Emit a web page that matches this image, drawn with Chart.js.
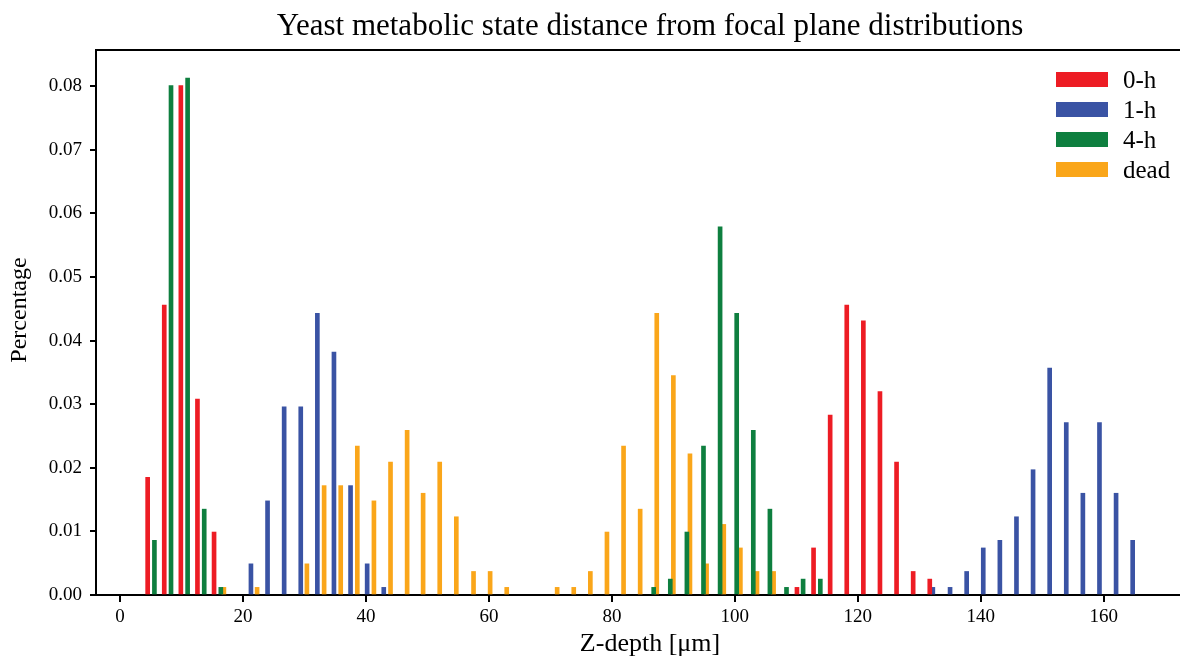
<!DOCTYPE html>
<html>
<head>
<meta charset="utf-8">
<script src="https://cdn.jsdelivr.net/npm/chart.js@4/dist/chart.umd.min.js"></script>
<style>
  html, body { margin: 0; padding: 0; background: #fff; overflow: hidden; }
  #wrap { width: 1180px; height: 656px; overflow: hidden; }
</style>
</head>
<body>
<div id="wrap"><canvas id="chart" width="1300" height="656"></canvas></div>
<script>
// bin centres (Z-depth, um) and densities
const redX = [4.5, 7.2, 9.9, 12.6, 15.3, 110.1, 112.8, 115.5, 118.2, 120.9, 123.6, 126.3, 129.0, 131.7];
const redY = [0.0185, 0.0456, 0.0801, 0.0308, 0.0099, 0.0012, 0.0074, 0.0283, 0.0456, 0.0431, 0.0320, 0.0209, 0.0037, 0.0025];

const blueX = [21.3, 24.0, 26.7, 29.4, 32.1, 34.8, 37.5, 40.2, 42.9,
  132.2, 135.0, 137.7, 140.4, 143.1, 145.8, 148.5, 151.2, 153.9, 156.6, 159.3, 162.0, 164.7];
const blueY = [0.0049, 0.0148, 0.0296, 0.0296, 0.0443, 0.0382, 0.0172, 0.0049, 0.0012,
  0.0012, 0.0012, 0.0037, 0.0074, 0.0086, 0.0123, 0.0197, 0.0357, 0.0271, 0.0160, 0.0271, 0.0160, 0.0086];

const greenX = [5.6, 8.3, 11.0, 13.7, 16.4, 86.8, 89.5, 92.2, 94.9, 97.6, 100.3, 103.0, 105.7, 108.4, 111.1, 113.9];
const greenY = [0.0086, 0.0801, 0.0813, 0.0135, 0.0012, 0.0012, 0.0025, 0.0099, 0.0234, 0.0579, 0.0443, 0.0259, 0.0135, 0.0012, 0.0025, 0.0025];

const deadX = [16.9, 22.3, 30.4, 33.2, 35.9, 38.6, 41.3, 44.0, 46.7, 49.3, 52.0, 54.7, 57.5, 60.2, 62.9,
  71.1, 73.8, 76.5, 79.2, 81.9, 84.6, 87.3, 90.0, 92.7, 95.4, 98.2, 100.9, 103.6, 106.3];
const deadY = [0.0012, 0.0012, 0.0049, 0.0172, 0.0172, 0.0234, 0.0148, 0.0209, 0.0259, 0.0160, 0.0209, 0.0123, 0.0037, 0.0037, 0.0012,
  0.0012, 0.0012, 0.0037, 0.0099, 0.0234, 0.0135, 0.0443, 0.0345, 0.0222, 0.0049, 0.0111, 0.0074, 0.0037, 0.0037];

const seriesLabels = ["0-h", "1-h", "4-h", "dead"];
const seriesColors = ["#ED1C24", "#3A53A4", "#0E7F3F", "#FAA61A"];
const xTickValues = [0, 20, 40, 60, 80, 100, 120, 140, 160];

const serif = "'Liberation Serif', 'DejaVu Serif', serif";

function toPoints(xs, ys) {
  return xs.map((x, i) => ({ x: x, y: ys[i] }));
}

const seriesData = [
  toPoints(redX, redY),
  toPoints(blueX, blueY),
  toPoints(greenX, greenY),
  toPoints(deadX, deadY),
];

// title, top spine, y label and legend drawn by hand (matplotlib look)
const decorations = {
  id: "decorations",
  afterDraw(chart) {
    const ctx = chart.ctx;
    const area = chart.chartArea;
    ctx.save();

    ctx.strokeStyle = "#000";
    ctx.lineWidth = 2;
    ctx.beginPath();
    ctx.moveTo(area.left - 1, area.top);
    ctx.lineTo(area.right + 1, area.top);
    ctx.moveTo(area.right, area.top);
    ctx.lineTo(area.right, area.bottom);
    ctx.stroke();

    ctx.fillStyle = "#000";
    ctx.font = "31px " + serif;
    ctx.textAlign = "center";
    ctx.textBaseline = "middle";
    ctx.fillText("Yeast metabolic state distance from focal plane distributions", (area.left + area.right) / 2, 27);

    ctx.save();
    ctx.translate(20, 310);
    ctx.rotate(-Math.PI / 2);
    ctx.font = "24px " + serif;
    ctx.fillText("Percentage", 0, 0);
    ctx.restore();

    ctx.font = "25px " + serif;
    ctx.textAlign = "left";
    chart.data.datasets.forEach((ds, i) => {
      const cy = 79.5 + i * 30;
      ctx.fillStyle = ds.backgroundColor;
      ctx.fillRect(1056, cy - 7.5, 52, 15);
      ctx.fillStyle = "#000";
      ctx.fillText(ds.label, 1123, cy + 2);
    });
    ctx.restore();
  }
};

new Chart(document.getElementById("chart"), {
  type: "bar",
  data: {
    datasets: seriesData.map((pts, i) => ({
      label: seriesLabels[i],
      data: pts,
      backgroundColor: seriesColors[i],
      borderWidth: 0,
      barThickness: 4,
      grouped: false,
    })),
  },
  options: {
    responsive: false,
    animation: false,
    layout: { padding: { top: 50, right: 96, left: 0, bottom: 0 } },
    plugins: {
      legend: { display: false },
      title: { display: false },
      tooltip: { enabled: false },
    },
    scales: {
      x: {
        type: "linear",
        min: -3.9,
        max: 176.3,
        offset: false,
        afterFit: (scale) => { scale.height = 61; },
        afterBuildTicks: (scale) => { scale.ticks = xTickValues.map(v => ({ value: v })); },
        ticks: {
          autoSkip: false,
          maxRotation: 0,
          padding: 4,
          color: "#000",
          font: { family: serif, size: 19 },
        },
        grid: { display: true, offset: false, drawOnChartArea: false, drawTicks: true, tickLength: 7, color: "#000", lineWidth: 2 },
        border: { display: true, color: "#000", width: 2 },
        title: { display: true, text: "Z-depth [μm]", color: "#000", font: { family: serif, size: 26, lineHeight: 0.9 }, padding: { top: 0, bottom: 0 } },
      },
      y: {
        min: 0,
        max: 0.0857,
        afterFit: (scale) => { scale.width = 96; },
        ticks: {
          stepSize: 0.01,
          includeBounds: false,
          padding: 8,
          color: "#000",
          font: { family: serif, size: 19 },
          callback: (v) => v.toFixed(2),
        },
        grid: { display: true, drawOnChartArea: false, drawTicks: true, tickLength: 6, color: "#000", lineWidth: 2 },
        border: { display: true, color: "#000", width: 2 },
      },
    },
  },
  plugins: [decorations],
});
</script>
</body>
</html>
